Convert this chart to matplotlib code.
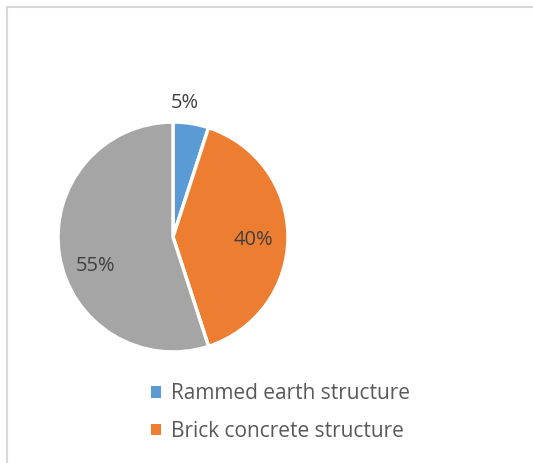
import matplotlib.pyplot as plt
from matplotlib.lines import Line2D
from matplotlib.patches import Patch

# dados do gráfico
categorias = ['Rammed earth structure', 'Brick concrete structure', 'Other structure']
valores = [5, 40, 55]
cores = ['#5B9BD5', '#ED7D31', '#A5A5A5']
rotulos = ['5%', '40%', '55%']

W, H = 533, 463
fig = plt.figure(figsize=(W / 100, H / 100), dpi=100)
plt.rcParams['font.family'] = ['Open Sans', 'DejaVu Sans']

# moldura cinza: só topo e lado esquerdo aparecem
fig.lines.append(Line2D([7 / W, 1.0], [1 - 7 / H, 1 - 7 / H], transform=fig.transFigure,
                        color='#D9D9D9', linewidth=1.5))
fig.lines.append(Line2D([7 / W, 7 / W], [0.0, 1 - 7 / H], transform=fig.transFigure,
                        color='#D9D9D9', linewidth=1.5))

# eixo do pizza: centro ~ (173, 237), raio ~ 115 px
r = 115
cx, cy = 173, 237
ax = fig.add_axes([(cx - r) / W, 1 - (cy + r) / H, 2 * r / W, 2 * r / H])
wedges, _ = ax.pie(valores, colors=cores, startangle=90, counterclock=False,
                   wedgeprops=dict(edgecolor='white', linewidth=2.5))
ax.set_aspect('equal')
ax.set_xlim(-1, 1)
ax.set_ylim(-1, 1)
ax.axis('off')

# rótulos de porcentagem
pos_rotulos = [(185, 103), (253, 240), (96, 266)]
for txt, (x, y) in zip(rotulos, pos_rotulos):
    fig.text(x / W, 1 - y / H, txt, ha='center', va='center', fontsize=14.5, color='#404040')

# legenda (só as duas primeiras entradas aparecem)
handles = [Patch(facecolor=c, edgecolor='none') for c in cores[:2]]
fig.legend(handles, categorias[:2], loc='upper left', bbox_to_anchor=(143 / W, 1 - 375 / H),
           frameon=False, fontsize=15, labelcolor='#595959', handlelength=0.45, handleheight=0.45,
           handletextpad=0.5, labelspacing=0.8, borderaxespad=0)

fig.savefig('out.png', dpi=100)
